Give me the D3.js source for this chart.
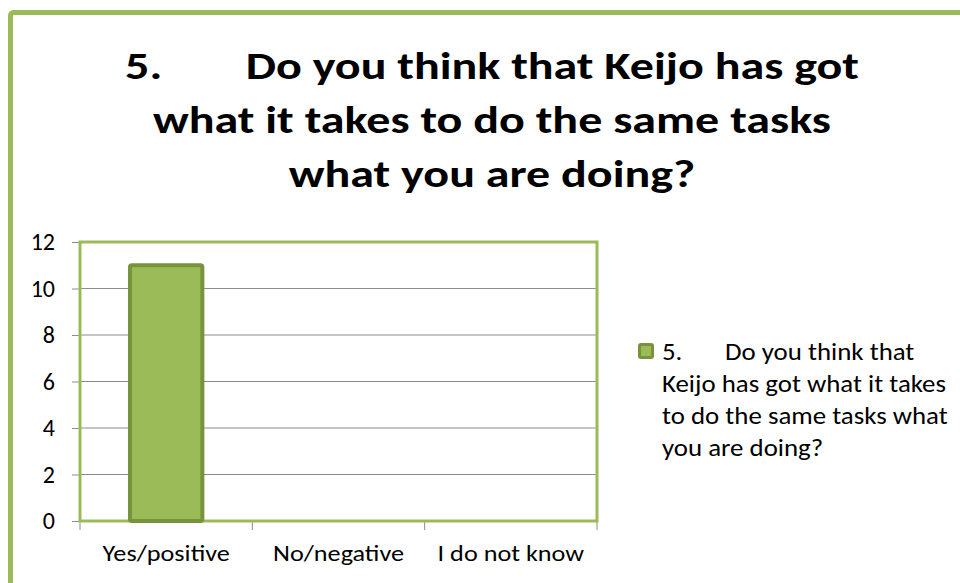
<!doctype html>
<html>
  <head>
    <meta charset="utf-8">
    <title>Keijo survey - question 5</title>
    <script src="https://cdnjs.cloudflare.com/ajax/libs/d3/7.8.5/d3.min.js"></script>
    <style>
      body { margin: 0; background: #fff; }
      svg text { font-family: Carlito, Calibri, Lato, sans-serif; fill: #000; }
    </style>
  </head>
  <body>
    <div id="chart"></div>
    <script>
      // data
      const categories = ['Yes/positive', 'No/negative', 'I do not know'];
      const answers = [11, 0, 0];
      const yTicks = [0, 2, 4, 6, 8, 10, 12];
      const titleLines = ['5.|Do you think that Keijo has got', 'what it takes to do the same tasks', 'what you are doing?'];
      const legendLines = ['5.|Do you think that', 'Keijo has got what it takes', 'to do the same tasks what', 'you are doing?'];

      const green = '#9bbb59', darkGreen = '#77933c', grid = '#8c8c8c';

      const svg = d3.select('#chart').append('svg')
        .attr('width', 960).attr('height', 583);

      // outer chart frame, runs off the right and bottom of the picture
      svg.append('rect')
        .attr('x', 10.5).attr('y', 12.5)
        .attr('width', 1000).attr('height', 700)
        .attr('rx', 3)
        .attr('fill', '#fff').attr('stroke', green).attr('stroke-width', 5);

      // title (the original text is a bit wider than Lato, so stretch it)
      const title = svg.append('g')
        .attr('transform', 'translate(492,0) scale(1.264,1)')
        .append('text')
        .attr('text-anchor', 'middle')
        .style('font-size', '38px').style('font-weight', 'bold');
      titleLines.forEach((line, i) => {
        const parts = line.split('|');
        const t = title.append('tspan').attr('x', 0).attr('y', 79 + i * 54);
        if (parts.length > 1) {
          t.text(parts[0]);
          title.append('tspan').attr('dx', 66).text(parts[1]);
        } else {
          t.text(line);
        }
      });

      // plot area
      const x = d3.scaleBand().domain(categories).range([80, 597]);
      const y = d3.scaleLinear().domain([0, 12]).range([521, 242]);

      // gridlines
      svg.append('g')
        .selectAll('line')
        .data(yTicks.filter(d => d > 0))
        .join('line')
        .attr('x1', 80).attr('x2', 597)
        .attr('y1', d => y(d)).attr('y2', d => y(d))
        .attr('stroke', grid).attr('stroke-width', 1);

      // y axis
      const yAxis = svg.append('g')
        .attr('transform', 'translate(80,0)')
        .call(d3.axisLeft(y).tickValues(yTicks).tickSize(8).tickPadding(17));
      yAxis.select('.domain').attr('stroke', grid);
      yAxis.selectAll('.tick line').attr('stroke', grid);
      yAxis.selectAll('.tick text')
        .style('font-size', '24px').attr('fill', '#000');

      // x axis, ticks sit on band edges
      const xAxis = svg.append('g')
        .attr('transform', 'translate(0,521)')
        .call(d3.axisBottom(x).tickSize(0).tickPadding(24));
      xAxis.select('.domain').attr('stroke', grid);
      xAxis.selectAll('.tick text')
        .style('font-size', '23px').attr('fill', '#000')
        .attr('transform', 'scale(1.14,1)');
      xAxis.selectAll('.edge')
        .data(categories.map(c => x(c)).concat([x.range()[1]]))
        .join('line')
        .attr('x1', d => d).attr('x2', d => d)
        .attr('y1', 0).attr('y2', 9)
        .attr('stroke', grid);

      // plot border
      svg.append('rect')
        .attr('x', 80).attr('y', y(12))
        .attr('width', 597 - 80).attr('height', y(0) - y(12))
        .attr('fill', 'none').attr('stroke', green).attr('stroke-width', 3);

      // bars
      const barW = x.bandwidth() * 0.42;
      svg.append('g')
        .selectAll('rect')
        .data(answers)
        .join('rect')
        .filter(d => d > 0)
        .attr('x', (d, i) => x(categories[i]) + (x.bandwidth() - barW) / 2)
        .attr('y', d => y(d))
        .attr('width', barW)
        .attr('height', d => y(0) - y(d))
        .attr('rx', 2)
        .attr('fill', green).attr('stroke', darkGreen).attr('stroke-width', 4);

      // legend
      svg.append('rect')
        .attr('x', 639.5).attr('y', 344.5).attr('width', 13).attr('height', 13)
        .attr('rx', 1.5)
        .attr('fill', green).attr('stroke', darkGreen).attr('stroke-width', 3);

      const legend = svg.append('g')
        .attr('transform', 'translate(662,0) scale(1.12,1)')
        .append('text').style('font-size', '24px');
      legendLines.forEach((line, i) => {
        const parts = line.split('|');
        const t = legend.append('tspan').attr('x', 0).attr('y', 360 + i * 32);
        if (parts.length > 1) {
          t.text(parts[0]);
          legend.append('tspan').attr('dx', 38).text(parts[1]);
        } else {
          t.text(line);
        }
      });
    </script>
  </body>
</html>
